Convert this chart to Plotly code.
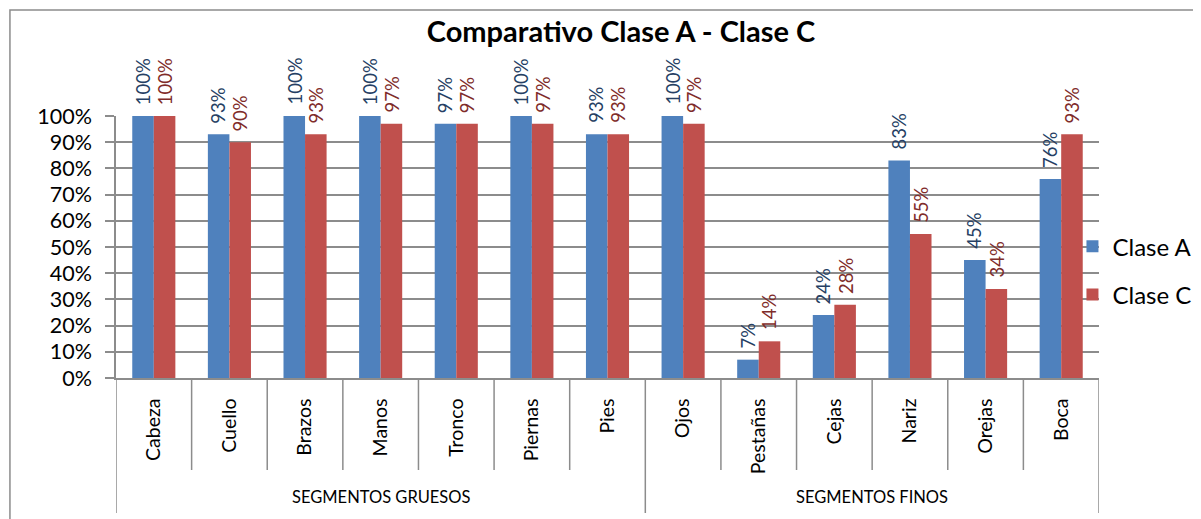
import plotly.graph_objects as go

groups = ["SEGMENTOS GRUESOS"] * 7 + ["SEGMENTOS FINOS"] * 6
categories = ["Cabeza", "Cuello", "Brazos", "Manos", "Tronco", "Piernas", "Pies",
              "Ojos", "Pestañas", "Cejas", "Nariz", "Orejas", "Boca"]
clase_a = [100, 93, 100, 100, 97, 100, 93, 100, 7, 24, 83, 45, 76]
clase_c = [100, 90, 93, 97, 97, 97, 93, 97, 14, 28, 55, 34, 93]
y_ticks = list(range(0, 101, 10))
y_tick_labels = [f"{v}%" for v in y_ticks]

FONT = "Lato"
GRID = "#8c8c8c"
OFF = 8  # default page body margin in the written html
PLOT_H = 262

series = [("Clase A", clase_a, "#4F81BD", "#263F64", -11),
          ("Clase C", clase_c, "#C0504D", "#7F2C2A", 11)]

fig = go.Figure()
for name, vals, col, tcol, dx in series:
    fig.add_trace(go.Bar(
        name=name, x=categories, y=vals,
        marker=dict(color=col, line=dict(width=0)),
        legendgroup=name,
    ))

annotations = []
for name, vals, col, tcol, dx in series:
    for i, v in enumerate(vals):
        annotations.append(dict(
            x=i, y=v, xref="x", yref="y", text=f"{v}%", showarrow=False,
            textangle=-90, xanchor="center", yanchor="bottom",
            xshift=dx, yshift=9,
            font=dict(family=FONT, size=18.5, color=tcol),
        ))

# group labels, category separators and group dividers on the category axis
shapes = []
group_names = []
for g in groups:
    if g not in group_names:
        group_names.append(g)
group_bounds = [-0.5]
for g in group_names:
    idx = [i for i, gg in enumerate(groups) if gg == g]
    annotations.append(dict(
        x=sum(idx) / len(idx), y=-(497 - 378) / PLOT_H, xref="x", yref="paper",
        text=g, showarrow=False, xanchor="center", yanchor="middle",
        font=dict(family=FONT, size=16.5, color="black"),
    ))
    group_bounds.append(idx[-1] + 0.5)
for k in range(len(categories) + 1):
    b = k - 0.5
    depth = 513 if b in group_bounds else 470
    shapes.append(dict(type="line", xref="x", yref="paper", x0=b, x1=b,
                       y0=0, y1=-(depth - 378) / PLOT_H,
                       line=dict(color=GRID, width=1.5)))
# chart outer border (left and top edges visible)
shapes.append(dict(type="rect", xref="paper", yref="paper",
                   x0=(8 - 116) / 1001, x1=1.2, y0=-1, y1=(378 - 10) / PLOT_H,
                   line=dict(color=GRID, width=1.5), layer="below"))

fig.update_layout(
    width=1201, height=519,
    margin=dict(l=116 - OFF, r=84 + OFF, t=116 - OFF, b=141 + OFF),
    paper_bgcolor="white", plot_bgcolor="white",
    barmode="group", bargap=0.43, bargroupgap=0,
    title=dict(text="<b>Comparativo Clase A - Clase C</b>",
               x=(621 - OFF) / 1201, xanchor="center",
               y=1 - (32 - OFF) / 519, yanchor="middle",
               font=dict(family=FONT, size=29, color="black")),
    font=dict(family=FONT, color="black"),
    legend=dict(x=0.973, xanchor="left", y=0.41, yanchor="middle",
                bgcolor="rgba(0,0,0,0)", font=dict(family=FONT, size=24),
                traceorder="grouped", tracegroupgap=14),
    showlegend=True,
    annotations=annotations,
    shapes=shapes,
)
fig.update_yaxes(
    range=[0, 100], tickvals=y_ticks, ticktext=y_tick_labels,
    showgrid=True, gridcolor=GRID, gridwidth=1.5,
    showline=True, linecolor=GRID, linewidth=1.5,
    ticks="outside", ticklen=9, tickcolor=GRID, tickwidth=1.5,
    ticklabelstandoff=9,
    tickfont=dict(family=FONT, size=21.5, color="black"), zeroline=False,
)
fig.update_xaxes(
    type="category", showline=True, linecolor=GRID, linewidth=1.5,
    ticks="", ticklabelstandoff=11,
    tickangle=-90, tickfont=dict(family=FONT, size=19.5, color="black"),
    range=[-0.5, len(categories) - 0.5],
)

fig.write_html("out.html")
